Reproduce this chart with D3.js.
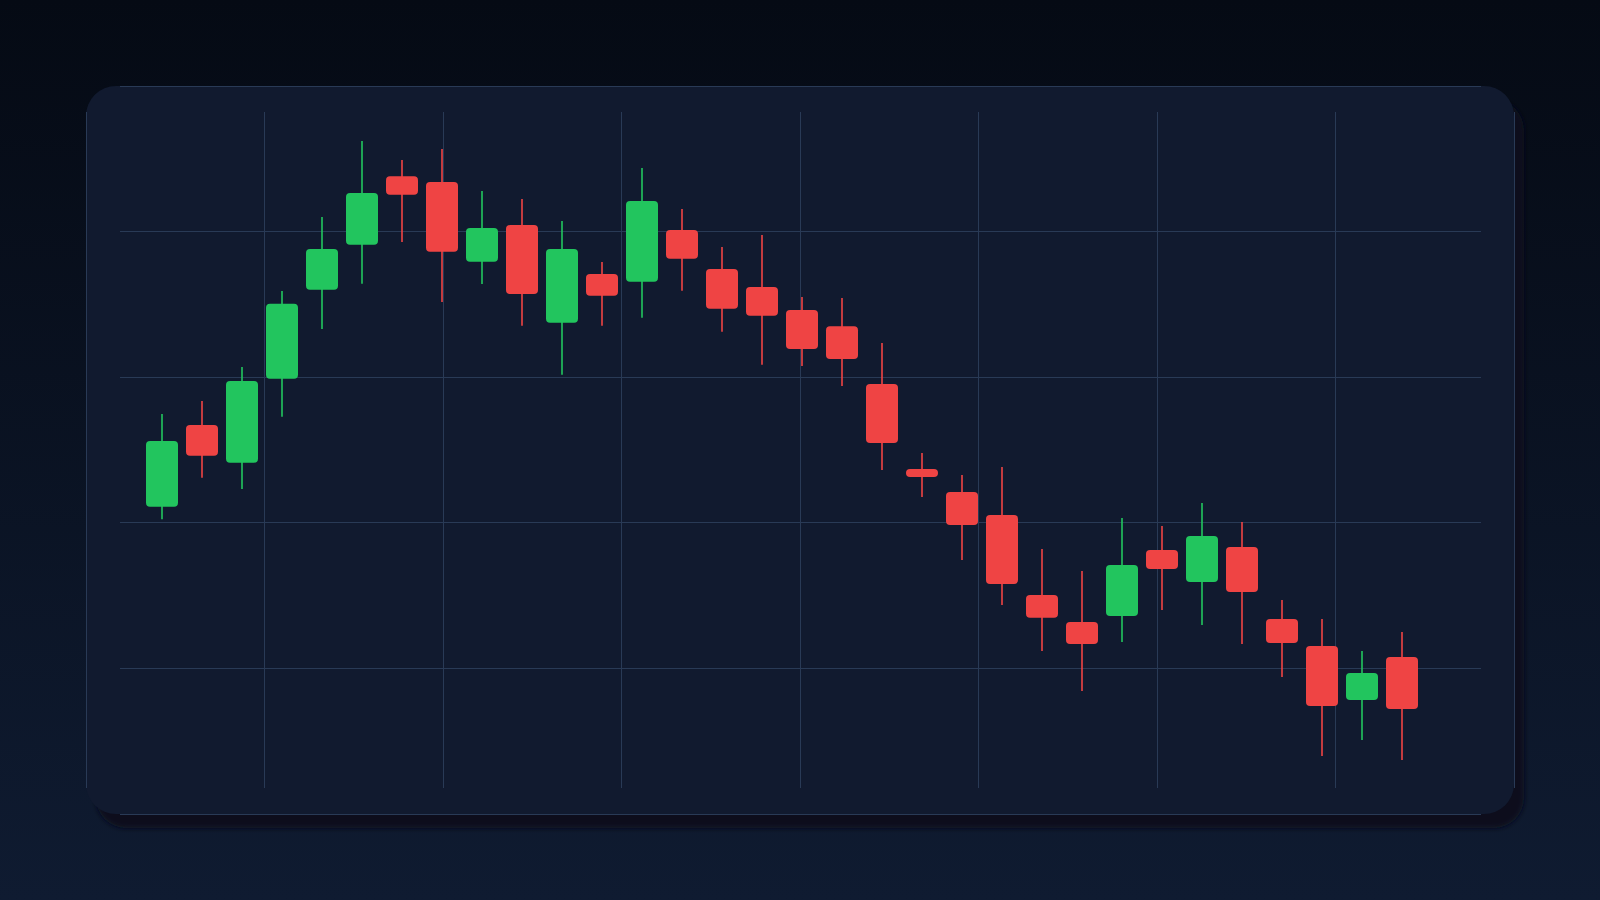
<!DOCTYPE html>
<html>
<head>
<meta charset="utf-8">
<script src="https://cdn.jsdelivr.net/npm/d3@7/dist/d3.min.js"></script>
<style>
  html, body { margin: 0; padding: 0; background: #070c17; overflow: hidden; }
  svg { display: block; }
</style>
</head>
<body>
<svg id="chart" width="1600" height="900"></svg>
<script>
// ---- data ----
const sessions = ["01","02","03","04","05","06","07","08","09","10","11","12","13","14","15","16",
                  "17","18","19","20","21","22","23","24","25","26","27","28","29","30","31","32"];
const openVals  = [121.11,126.72,124.13,129.90,136.01,139.10,143.80,143.41,137.93,140.45,133.74,137.09,136.56,140.11,137.43,136.19,
                   134.62,133.50,129.53,123.70,122.12,120.54,115.04,113.19,113.60,118.13,115.93,118.34,113.39,111.54,107.83,110.78];
const highVals  = [127.47,128.37,130.70,135.92,141.00,146.22,144.92,145.67,142.79,142.24,140.73,137.91,144.37,141.55,138.94,139.77,
                   135.51,135.44,132.35,124.79,123.28,123.83,118.20,116.69,120.33,119.78,121.36,120.05,114.70,113.39,111.20,112.50];
const lowVals   = [120.24,123.10,122.32,127.29,133.31,136.42,139.29,135.16,136.40,133.54,130.17,133.54,134.09,135.94,133.13,130.86,
                   130.77,129.40,123.63,121.77,117.44,114.35,111.20,108.45,111.81,114.01,112.98,111.68,109.41,103.98,105.08,103.71];
const closeVals = [125.62,124.61,129.74,135.05,138.80,142.65,142.53,138.62,140.25,135.71,138.80,135.60,142.10,138.14,134.70,134.22,
                   131.94,131.25,125.48,123.15,119.85,115.80,113.48,111.68,117.10,116.83,119.09,115.25,111.74,107.42,109.68,107.21];
const yTicks = [100,110,120,130,140,150];
const xGridCount = 8;

const candles = sessions.map((s, i) => ({
  s, o: openVals[i], h: highVals[i], l: lowVals[i], c: closeVals[i]
}));

// ---- layout ----
const W = 1600, H = 900;
const card = { x: 86, y: 86, w: 1428, h: 728, r: 30 };
const UP = "#22c55e", DOWN = "#ef4444";

const svg = d3.select("#chart");
const defs = svg.append("defs");

const bg = defs.append("linearGradient").attr("id", "bg")
  .attr("x1", 0).attr("y1", 0).attr("x2", 0).attr("y2", 1);
bg.append("stop").attr("offset", "0%").attr("stop-color", "#050a14");
bg.append("stop").attr("offset", "100%").attr("stop-color", "#0f1b31");

const blur = defs.append("filter").attr("id", "shadowBlur")
  .attr("x", "-5%").attr("y", "-5%").attr("width", "110%").attr("height", "115%");
blur.append("feGaussianBlur").attr("stdDeviation", 2.5);

svg.append("rect").attr("width", W).attr("height", H).attr("fill", "url(#bg)");

// card shadow
svg.append("rect")
  .attr("x", card.x + 10).attr("y", card.y + 14)
  .attr("width", card.w).attr("height", card.h)
  .attr("rx", card.r).attr("ry", card.r)
  .attr("fill", "#090f1c")
  .attr("filter", "url(#shadowBlur)");

// card
svg.append("rect")
  .attr("x", card.x).attr("y", card.y)
  .attr("width", card.w).attr("height", card.h)
  .attr("rx", card.r).attr("ry", card.r)
  .attr("fill", "#111a2f");

// ---- scales ----
const y = d3.scaleLinear().domain([100, 150]).range([card.y + card.h, card.y]);
const gx = d3.scaleLinear().domain([0, xGridCount]).range([card.x, card.x + card.w]);
const x = d3.scaleBand().domain(sessions).range([142, 1422]).paddingInner(0.2).paddingOuter(0.1);

// ---- grid ----
const grid = svg.append("g").attr("stroke", "#293a56").attr("stroke-width", 1);
grid.selectAll("line.h").data(yTicks).join("line").attr("class", "h")
  .attr("x1", 120).attr("x2", 1481)
  .attr("y1", d => Math.floor(y(d)) + 0.5).attr("y2", d => Math.floor(y(d)) + 0.5);
grid.selectAll("line.v").data(d3.range(xGridCount + 1)).join("line").attr("class", "v")
  .attr("y1", 112).attr("y2", 788)
  .attr("x1", d => Math.floor(gx(d)) + 0.5).attr("x2", d => Math.floor(gx(d)) + 0.5);

// ---- candles ----
const g = svg.append("g");
const bw = x.bandwidth();
const cg = g.selectAll("g.candle").data(candles).join("g").attr("class", "candle");

cg.append("line")
  .attr("x1", d => x(d.s) + bw / 2).attr("x2", d => x(d.s) + bw / 2)
  .attr("y1", d => y(d.h)).attr("y2", d => y(d.l))
  .attr("stroke", d => d.c >= d.o ? UP : DOWN)
  .attr("stroke-opacity", 0.8)
  .attr("stroke-width", 2);

cg.append("rect")
  .attr("x", d => x(d.s)).attr("width", bw)
  .attr("y", d => y(Math.max(d.o, d.c)))
  .attr("height", d => Math.max(1, Math.abs(y(d.o) - y(d.c))))
  .attr("rx", 4).attr("ry", 4)
  .attr("fill", d => d.c >= d.o ? UP : DOWN);
</script>
</body>
</html>
